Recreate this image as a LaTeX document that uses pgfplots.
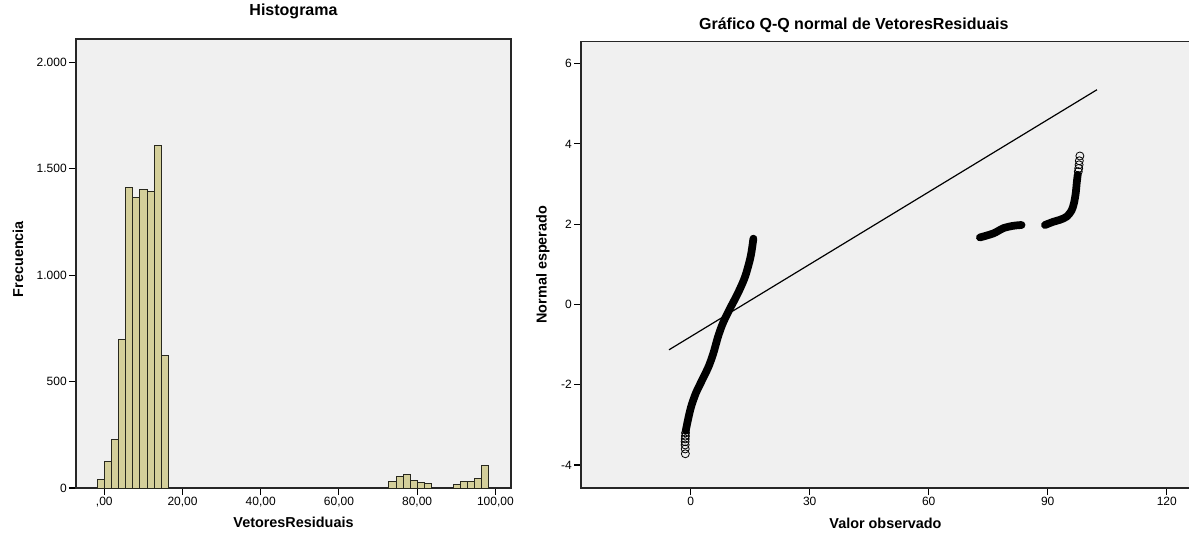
\documentclass[border=0pt]{standalone}
\usepackage{fontspec}
\setmainfont{Liberation Sans}
\usepackage{pgfplots}
\pgfplotsset{compat=1.18}
\definecolor{bg}{RGB}{240,240,240}
\definecolor{barfill}{RGB}{212,207,154}
\definecolor{barline}{RGB}{40,40,30}
\begin{document}
\begin{tikzpicture}
\path[use as bounding box] (0,0) rectangle (891.75pt,399.75pt);
\pgfplotsset{
 common/.style={scale only axis, axis background/.style={fill=bg},
  axis line style={line width=1pt, black!85},
  tick style={line width=0.8pt, black}, major tick length=5.25pt, tick align=outside,
  xtick pos=left, ytick pos=left,
  tick label style={font=\fontsize{9}{10}\selectfont, inner sep=1.5pt},
  label style={font=\bfseries\fontsize{10.8}{12}\selectfont},
  anchor=south west}
}
\begin{axis}[common, at={(57pt,33.75pt)}, width=326.25pt, height=336.75pt,
  xmin=-7.24, xmax=104, ymin=0, ymax=2110,
  xtick={0,20,40,60,80,100}, xticklabels={{,00},{20,00},{40,00},{60,00},{80,00},{100,00}},
  ytick={0,500,1000,1500,2000}, yticklabels={0,500,{1.000},{1.500},{2.000}},
  title={Histograma},
  every axis title/.style={at={(axis description cs:0.5,1.0624)}, anchor=center, font=\bfseries\fontsize{12}{14}\selectfont},
  xlabel={VetoresResiduais}, xlabel style={at={(axis description cs:0.5,-0.0757)}, anchor=center},
  ylabel={Frecuencia}, ylabel style={at={(axis description cs:-0.1333,0.51)}, anchor=center}]
\addplot[ybar interval, fill=barfill, draw=barline, line width=0.75pt] coordinates {
(-1.82,42) (0,125) (1.82,229) (3.64,700) (5.46,1414) (7.28,1365) (9.10,1402) (10.92,1395) (12.74,1609) (14.56,622) (16.38,0)};
\addplot[ybar interval, fill=barfill, draw=barline, line width=0.75pt] coordinates {
(72.80,30) (74.62,53) (76.44,65) (78.26,33) (80.08,26) (81.90,19) (83.72,0)};
\addplot[ybar interval, fill=barfill, draw=barline, line width=0.75pt] coordinates {
(89.18,17) (91.00,31) (92.82,32) (94.64,46) (96.46,108) (98.28,0)};
\end{axis}
\begin{axis}[common, at={(435.75pt,33.75pt)}, width=456.75pt, height=334.9pt,
  xmin=-27.65, xmax=125.86, ymin=-4.573, ymax=6.553,
  xtick={0,30,60,90,120}, xticklabels={0,30,60,90,120},
  ytick={-4,-2,0,2,4,6}, yticklabels={-4,-2,0,2,4,6},
  title={Gráfico Q-Q normal de VetoresResiduais},
  every axis title/.style={at={(axis description cs:0.448,1.037)}, anchor=center, font=\bfseries\fontsize{12}{14}\selectfont},
  xlabel={Valor observado}, xlabel style={at={(axis description cs:0.5,-0.0784)}, anchor=center},
  ylabel={Normal esperado}, ylabel style={at={(axis description cs:-0.0624,0.5)}, anchor=center}]
\addplot[black, line width=0.9pt] coordinates {(-5.47,-1.13) (102.4,5.35)};
\addplot[black, line width=5.8pt, line cap=round, line join=round, smooth] coordinates {
(-1.25,-3.15) (-0.7,-2.88) (0.1,-2.55) (1.3,-2.21) (2.9,-1.88) (4.5,-1.55) (5.7,-1.22) (6.9,-0.80) (8.1,-0.47) (9.7,-0.14) (11.9,0.28) (13.7,0.69) (15.1,1.19) (15.8,1.64)};
\addplot[black, line width=5.8pt, line cap=round, line join=round, smooth] coordinates {
(72.9,1.67) (76.3,1.77) (78.8,1.90) (81.3,1.96) (83.4,1.98)};
\addplot[black, line width=5.8pt, line cap=round, line join=round, smooth] coordinates {
(89.3,1.98) (91.4,2.06) (93.1,2.11) (94.8,2.19) (96.0,2.34) (96.6,2.52) (97.05,2.77) (97.3,3.02) (97.55,3.23)};
\addplot[only marks, mark=o, mark size=3pt, black, mark options={line width=0.6pt}] coordinates {
(-1.35,-3.72) (-1.38,-3.60) (-1.40,-3.50) (-1.40,-3.42) (-1.38,-3.35) (-1.33,-3.28) (-1.3,-3.2)
(97.7,3.31) (97.8,3.39) (97.9,3.48) (97.96,3.58) (98.1,3.70)};
\end{axis}
\end{tikzpicture}
\end{document}
